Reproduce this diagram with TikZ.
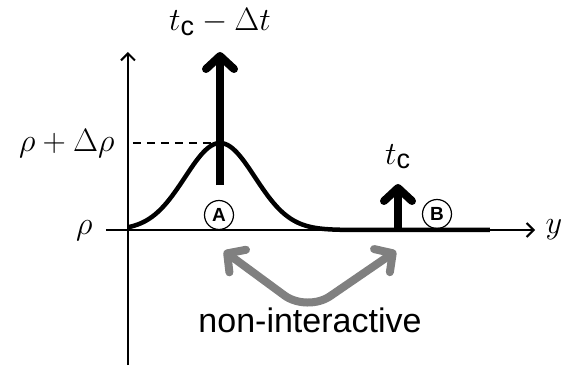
\documentclass[tikz,border=0pt]{standalone}
\usepackage{fontspec}
\setmainfont{Liberation Sans}
\usetikzlibrary{arrows.meta}

\begin{document}
\begin{tikzpicture}[x=1pt, y=1pt,
		axis/.style={line width=2pt, -{Straight Barb[length=7pt, width=14pt]}},
		fatarrow/.style={line width=8pt, -{Straight Barb[length=13pt, width=28pt, round]}},
		site/.style={circle, draw, line width=1.2pt, minimum size=29pt, inner sep=0pt,
			font=\fontsize{19}{22}\selectfont\bfseries},
		mathlabel/.style={font=\Huge, scale=1.3, inner sep=1pt}]
		\useasboundingbox (-128, -140) rectangle (438, 230);

		\coordinate (o) at (0, 0);
		\coordinate (peak) at (92, 87);

		% axes
		\draw [axis] (-22, 0) -- (407, 0) coordinate (yend);
		\draw [axis] (0, -135) -- (0, 178);
		\node [mathlabel, anchor=west] (ylab) at ([xshift=9pt]yend) {$y$};

		% density profile with the bump
		\draw [line width=4.5pt] plot [smooth, samples=150, domain=0:362]
			(\x, {87*exp(-((\x-92)/35)^2/2)});

		% dashed line to the peak
		\draw [dashed, line width=2pt, dash pattern=on 8pt off 6pt] (5, 87) -- (peak);
		\node [mathlabel, anchor=base east] (rhodrho) at (-12, 78) {$\rho + \Delta\rho$};
		\node [mathlabel, anchor=base east] (rho) at (-34, -4) {$\rho$};

		% big arrow at A
		\coordinate (abase) at (92, 45);
		\coordinate (atip) at (92, 178);
		\draw [fatarrow] (abase) -- (atip);
		\node [mathlabel, anchor=base] (tcdt) at (92, 199) {$t_{\mathrm{c}} - \Delta t$};

		% small arrow at B
		\coordinate (bbase) at (270, 0);
		\coordinate (btip) at (270, 46);
		\draw [fatarrow] (bbase) -- (btip);
		\node [mathlabel, anchor=base] (tc) at (270, 66) {$t_{\mathrm{c}}$};

		% sites
		\node [site] (A) at (91, 15) {A};
		\node [site] (B) at (309, 16) {B};

		% non-interactive (gray)
		\coordinate (gl) at (96, -21);
		\coordinate (gr) at (268, -21);
		\draw [gray, line width=8pt, rounded corners=28pt,
			{Straight Barb[length=13pt, width=28pt, round]}-{Straight Barb[length=13pt, width=28pt, round]}]
			(gl) -- (179, -82) -- (gr);
		\node [font=\fontsize{34}{40}\selectfont, anchor=base] (noint) at (182, -102) {non-interactive};
	\end{tikzpicture}
\end{document}
